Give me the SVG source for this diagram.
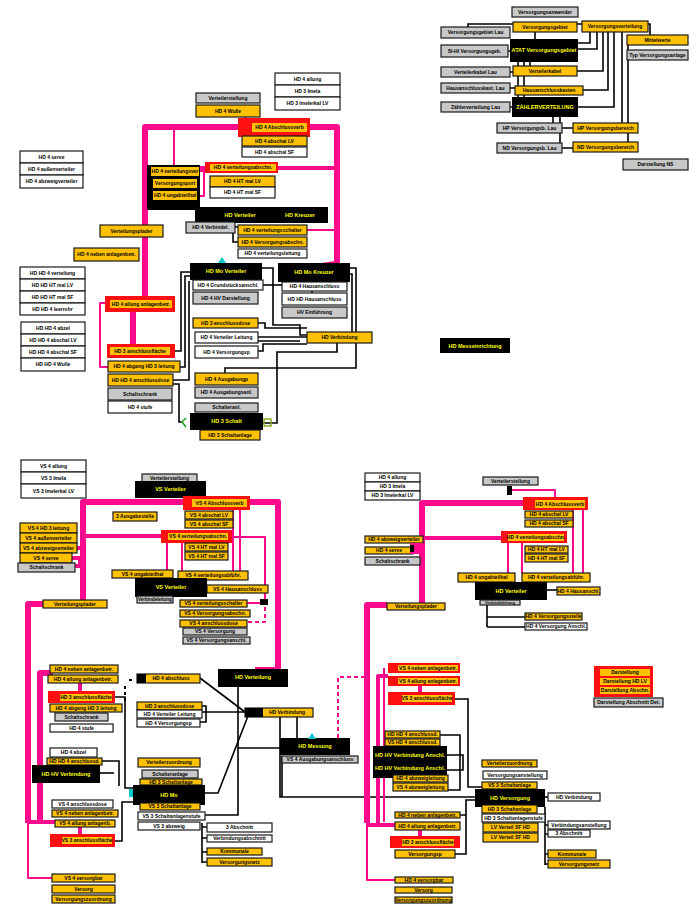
<svg xmlns="http://www.w3.org/2000/svg" width="696" height="905" viewBox="0 0 696 905">
<style>
.y{fill:#FFC000;stroke:#1a1a1a;stroke-width:1.2}
.w{fill:#fff;stroke:#1a1a1a;stroke-width:1.2}
.g{fill:#C8C8C8;stroke:#1a1a1a;stroke-width:1.2}
.r{fill:#FF1010}
.yi{fill:#FFC000}
.k{fill:#000}
text{font-family:'Liberation Sans',Arial,sans-serif;font-weight:bold;font-size:5px;text-anchor:middle;fill:#000}
.ty{fill:#FFFF00;font-size:5.5px}
.p{fill:none;stroke:#FF0A8C;stroke-linejoin:round}
.p6{stroke-width:6}.p4{stroke-width:4}.p2{stroke-width:2}
.pd{stroke-dasharray:4 3}
.l{fill:none;stroke:#000;stroke-width:1.6}
.ld{stroke-dasharray:3 3;stroke-width:2}
.cy{fill:#00C8C8}
</style>
<rect width="696" height="905" fill="#fff"/>
<g id="connectors">
<!-- top right black -->
<path class="l" d="M468,27V24H650V35"/>
<path class="l" d="M535,32V39"/>
<path class="l" d="M590,32V43H578"/>
<path class="l" d="M597,32V49H578"/>
<path class="l" d="M603,32V71H577"/>
<path class="l" d="M608,32V90H583"/>
<path class="l" d="M614,32V107H578"/>
<path class="l" d="M622,32V123"/>
<path class="l" d="M628,45V142"/>
<path class="l" d="M508,51H512M510,72H513M510,88H515M510,107H512M562,128H573M562,148H573"/>
<path class="l" d="M518,62V97M524,62V97M530,62V66"/>
<path class="l" d="M553,117V128M560,117V143"/>
<!-- top pink -->
<path class="p p6" d="M145,300V127H337V265"/>
<path class="p p4" d="M145,168H337"/>
<path class="p p2" d="M174,127V168"/>
<path class="p p2" d="M245,117L248,122"/>
<path class="p p2" d="M200,171H207M204,171V196H199"/>
<path class="p p2" d="M307,230H335"/>
<path class="p p2" d="M308,266L335,262"/>
<path class="p p6" d="M133,312V345"/>
<path class="p p2" d="M105,303H100V367H108"/>
<!-- top middle black -->
<path class="l" d="M175,351H181V272H190"/>
<path class="l" d="M180,367H185V276H190"/>
<path class="l" d="M173,380H189V281"/>
<path class="l" d="M173,384H179V422H183"/>
<path class="l" d="M262,268H273V325H300V335H307" stroke-width="2.5"/>
<path class="l" d="M258,323H265V328H307"/>
<path class="l" d="M258,337H307"/>
<path class="l" d="M258,341H300"/>
<path class="l" d="M258,351H263V344H307"/>
<path class="l" d="M350,268H356V368H225V373"/>
<path class="l" d="M350,274H352V336H372"/>
<path class="l" d="M337,343V352H277V423H263"/>
<path class="l" d="M263,285H282"/>
<path class="l" d="M312,290V293"/>
<path class="l" d="M235,227H238M233,233V242H238"/>
<!-- bottom left pink -->
<path class="p p6" d="M83,603V502H278V670H255"/>
<path class="p p4" d="M83,536H232"/>
<path class="p p2" d="M232,537H265V603H247"/>
<path class="p p2 pd" d="M265,607V622H247"/>
<path class="p p2" d="M167,543V571M182,543V571M233,510V571M240,510V571"/>
<path class="p p2" d="M188,488H193V497"/>
<path class="p p4" d="M77,548H83M72,558H80V566H75"/>
<path class="p p6" d="M45,604H28V823"/>
<path class="p p2" d="M28,823V878H53"/>
<path class="p p6" d="M53,673H40V823"/>
<path class="p p4" d="M28,822H58"/>
<path class="p p4" d="M80,683V692M80,827V835"/>
<!-- bottom middle black -->
<path class="l" d="M200,678L245,712"/>
<path class="l" d="M202,712H245"/>
<path class="l" d="M248,716L218,793H205"/>
<path class="l" d="M238,687V815H205"/>
<path class="l" d="M280,717V797H475"/>
<path class="l" d="M297,717V738"/>
<path class="l" d="M238,748H280"/>
<path class="l" d="M282,756V797"/>
<path class="l" d="M115,697H125V788H133"/>
<path class="l" d="M115,841H122V802H133"/>
<path class="l" d="M102,761H119V786"/>
<path class="l" d="M100,773H114"/>
<path class="l" d="M202,706H206V722H200"/>
<path class="l" d="M202,823V863M202,827H207M202,838H207M202,852H207M202,862H207" stroke-width="2"/>
<path class="l ld" d="M129,680H135M125,686V702"/>
<!-- bottom right pink -->
<path class="p p6" d="M422,604V503H523"/>
<path class="p p6" d="M367,823V605H387"/>
<path class="p p4" d="M412,538H501"/>
<path class="p p2" d="M508,543V573M522,543V573M573,510V573M583,510V573"/>
<path class="p p2" d="M512,490H555V498"/>
<path class="p p4" d="M378,823V676H388"/>
<path class="p p4" d="M367,825H395"/>
<path class="p p2" d="M384,668V822"/>
<path class="p p4" d="M420,686V692M420,829V836"/>
<path class="p p2" d="M367,823V880H395"/>
<path class="p p2 pd" d="M338,738V677H367"/>
<!-- bottom right black -->
<path class="l" d="M455,699H468V787H482"/>
<path class="l" d="M440,735H460V790H448"/>
<path class="l" d="M447,755H463V770H447"/>
<path class="l" d="M460,815H466V800H475M455,854H466V815"/>
<path class="l" d="M545,797H548"/>
<path class="l" d="M545,807V865M545,825H548M545,834H548M545,854H548M545,864H548" stroke-width="2.5"/>
<path class="l" d="M547,590H557"/>
<path class="l" d="M487,605V627M487,617H525M487,627H525"/>
</g>

<!-- TOP RIGHT -->
<g id="n1"><rect class="g" x="512" y="7" width="66" height="10"/><text x="545" y="13.8">Versorgungsanwender</text></g>
<g id="n2"><rect class="g" x="441" y="27" width="69" height="11"/><text x="475.5" y="34.3">Versorgungsgebiet Lau</text></g>
<g id="n3"><rect class="y" x="513" y="22" width="64" height="10"/><text x="545" y="28.8">Versorgungsgebiet</text></g>
<g id="n4"><rect class="y" x="582" y="21" width="66" height="11"/><text x="615" y="28.3">Versorgungsverteilung</text></g>
<g id="n5"><rect class="y" x="627" y="35" width="61" height="10"/><text x="657.5" y="41.8">Mittelwerte</text></g>
<g id="n6"><rect class="g" x="627" y="50" width="61" height="10"/><text x="657.5" y="56.8">Typ Versorgungsanlage</text></g>
<g id="n7"><rect class="k" x="510" y="39" width="68" height="23"/><text class="ty" x="544" y="52.3">ATAT Versorgungsgebiet</text></g>
<g id="n8"><rect class="g" x="441" y="45" width="67" height="12"/><text x="474.5" y="52.8">SI-HI Versorgungsgeb.</text></g>
<g id="n9"><rect class="g" x="441" y="67" width="69" height="10"/><text x="475.5" y="73.8">Verteilerkabel Lau</text></g>
<g id="n10"><rect class="y" x="513" y="66" width="64" height="10"/><text x="545" y="72.8">Verteilerkabel</text></g>
<g id="n11"><rect class="g" x="441" y="83" width="69" height="10"/><text x="475.5" y="89.8">Hausanschlusskast. Lau</text></g>
<g id="n12"><rect class="y" x="515" y="86" width="68" height="9"/><text x="549" y="92.3">Hausanschlusskasten</text></g>
<g id="n13"><rect class="g" x="441" y="102" width="69" height="10"/><text x="475.5" y="108.8">Zählerverteilung Lau</text></g>
<g id="n14"><rect class="k" x="512" y="97" width="66" height="20"/><text class="ty" x="545" y="108.8">ZÄHLERVERTEILUNG</text></g>
<g id="n15"><rect class="g" x="497" y="123" width="65" height="10"/><text x="529.5" y="129.8">HP Versorgungsb. Lau</text></g>
<g id="n16"><rect class="y" x="573" y="123" width="65" height="10"/><text x="605.5" y="129.8">HP Versorgungsbereich</text></g>
<g id="n17"><rect class="g" x="497" y="143" width="65" height="10"/><text x="529.5" y="149.8">ND Versorgungsb. Lau</text></g>
<g id="n18"><rect class="y" x="573" y="142" width="65" height="10"/><text x="605.5" y="148.8">ND Versorgungsbereich</text></g>
<g id="n19"><rect class="g" x="623" y="159" width="65" height="11"/><text x="655.5" y="166.3">Darstellung NS</text></g>

<!-- CENTER TOP -->
<g id="c1"><rect class="w" x="275" y="73" width="65" height="12"/><text x="307.5" y="80.8">HD 4 allung</text><rect class="w" x="275" y="85" width="65" height="12"/><text x="307.5" y="92.8">HD 3 Imela</text><rect class="w" x="275" y="97" width="65" height="13"/><text x="307.5" y="105.3">HD 3 Imelerkal LV</text></g>
<g id="c2"><rect class="g" x="196" y="93" width="64" height="10"/><text x="228" y="99.8">Verteilerstellung</text></g>
<g id="c3"><rect class="y" x="196" y="105" width="64" height="12"/><text x="228" y="112.8">HD 4 Wulle</text></g>
<g id="c4"><rect class="r" x="238" y="118" width="72" height="19"/><rect class="yi" x="252" y="123" width="55" height="9"/><text x="279.5" y="129.3">HD 4 Abschlussverb</text></g>
<g id="c5"><rect class="y" x="242" y="136" width="65" height="10"/><text x="274.5" y="142.8">HD 4 abschal LV</text></g>
<g id="c6"><rect class="w" x="242" y="147" width="65" height="10"/><text x="274.5" y="153.8">HD 4 abschal SF</text></g>
<g id="c7"><rect class="r" x="205" y="162" width="73" height="11"/><rect class="yi" x="210" y="164" width="66" height="7"/><text x="243" y="169.3">HD 4 verteilungsabschn.</text></g>
<g id="c8"><rect class="y" x="210" y="176" width="65" height="11"/><text x="242.5" y="183.3">HD 4 HT mal LV</text></g>
<g id="c9"><rect class="w" x="210" y="187" width="65" height="11"/><text x="242.5" y="194.3">HD 4 HT mal SF</text></g>
<g id="c10"><rect class="k" x="147" y="165" width="53" height="45"/><rect class="yi" x="151" y="167" width="48" height="9"/><text x="175" y="173.3">HD 4 verteilungsver</text><rect class="yi" x="153" y="179" width="44" height="9"/><text x="175" y="185.3">Versorgungsport</text><rect class="yi" x="153" y="191" width="44" height="9"/><text x="175" y="197.3">HD 4 ungabteilhal</text></g>
<g id="c11"><rect class="k" x="195" y="207" width="133" height="16"/><text class="ty" x="240" y="217">HD Verteiler</text><text class="ty" x="300" y="217">HD Kreuzer</text></g>
<g id="c12"><rect class="g" x="186" y="222" width="49" height="11"/><text x="210.5" y="229.3">HD 4 Verbindel.</text></g>
<g id="c13"><rect class="y" x="238" y="225" width="69" height="10"/><text x="272.5" y="231.8">HD 4 verteilungsschalter</text></g>
<g id="c14"><rect class="y" x="238" y="237" width="69" height="10"/><text x="272.5" y="243.8">HD 4 Versorgungsabschn.</text></g>
<g id="c15"><rect class="w" x="238" y="249" width="69" height="9"/><text x="272.5" y="255.3">HD 4 verteilungsleitung</text></g>

<!-- LEFT TOP -->
<g id="l1"><rect class="w" x="20" y="151" width="63" height="12"/><text x="51.5" y="158.8">HD 4 serve</text><rect class="w" x="20" y="163" width="63" height="12"/><text x="51.5" y="170.8">HD 4 außenverteiler</text><rect class="w" x="20" y="175" width="63" height="13"/><text x="51.5" y="183.3">HD 4 abzweigverteiler</text></g>
<g id="l2"><rect class="y" x="100" y="225" width="63" height="12"/><text x="131.5" y="232.8">Verteilungsplader</text></g>
<g id="l3"><rect class="y" x="74" y="248" width="65" height="13"/><text x="106.5" y="256.3">HD 4 neben anlagenbetr.</text></g>
<g id="l4"><rect class="w" x="20" y="267" width="65" height="12"/><text x="52.5" y="274.8">HD HD 4 verteilung</text><rect class="w" x="20" y="279" width="65" height="12"/><text x="52.5" y="286.8">HD HD HT mal LV</text><rect class="w" x="20" y="291" width="65" height="12"/><text x="52.5" y="298.8">HD HD HT mal SF</text><rect class="w" x="20" y="303" width="65" height="12"/><text x="52.5" y="310.8">HD HD 4 leerrohr</text></g>
<g id="l5"><rect class="w" x="21" y="322" width="64" height="12"/><text x="53" y="329.8">HD HD 4 abzel</text><rect class="w" x="21" y="334" width="64" height="12"/><text x="53" y="341.8">HD HD 4 abschal LV</text><rect class="w" x="21" y="346" width="64" height="12"/><text x="53" y="353.8">HD HD 4 abschal SF</text><rect class="w" x="21" y="358" width="64" height="13"/><text x="53" y="366.3">HD HD 4 Wulle</text></g>
<g id="l6"><rect class="r" x="105" y="296" width="70" height="16"/><rect class="yi" x="110" y="300" width="62" height="8"/><text x="141" y="305.8">HD 4 allung anlagenbetr.</text></g>
<g id="l7"><rect class="r" x="107" y="344" width="68" height="14"/><rect class="yi" x="110" y="347" width="60" height="8"/><text x="140" y="352.8">HD 3 anschlussfläche</text></g>
<g id="l8"><rect class="y" x="108" y="361" width="72" height="11"/><text x="144" y="368.3">HD 4 abgang HD 3 leitung</text></g>
<g id="l9"><rect class="y" x="108" y="374" width="65" height="12"/><text x="140.5" y="381.8">HD HD 4 anschlussdose</text></g>
<g id="l10"><rect class="g" x="108" y="388" width="64" height="12"/><text x="140" y="395.8">Schaltschrank</text></g>
<g id="l11"><rect class="w" x="108" y="401" width="64" height="12"/><text x="140" y="408.8">HD 4 stufe</text></g>

<!-- MIDDLE -->
<g id="m1"><rect class="k" x="190" y="263" width="72" height="17"/><text class="ty" x="226" y="273.3">HD Mo Verteiler</text><path class="cy" d="M218,263L222,257L226,263Z"/></g>
<g id="m2"><rect class="w" x="193" y="280" width="70" height="10"/><text x="228" y="286.8">HD 4 Grundstücksanschl.</text></g>
<g id="m3"><rect class="g" x="193" y="292" width="65" height="12"/><text x="225.5" y="299.8">HD 4 HV Darstellung</text></g>
<g id="m4"><rect class="k" x="278" y="263" width="72" height="19"/><text class="ty" x="314" y="274.3">HD Mo Kreuzer</text></g>
<g id="m5"><rect class="w" x="282" y="282" width="65" height="9"/><text x="314.5" y="288.3">HD 4 Hausanschluss</text></g>
<g id="m6"><rect class="w" x="282" y="293" width="65" height="12"/><text x="314.5" y="300.8">HD HD Hausanschluss</text></g>
<g id="m7"><rect class="g" x="282" y="307" width="65" height="11"/><text x="314.5" y="314.3">HV Einführung</text></g>
<g id="m8"><rect class="y" x="193" y="318" width="65" height="10"/><text x="225.5" y="324.8">HD 3 anschlussdose</text></g>
<g id="m9"><rect class="w" x="195" y="332" width="63" height="11"/><text x="226.5" y="339.3">HD 4 Verteiler Leitung</text></g>
<g id="m10"><rect class="w" x="195" y="346" width="63" height="12"/><text x="226.5" y="353.8">HD 4 Versorgungsp</text></g>
<g id="m11"><rect class="y" x="307" y="332" width="65" height="11"/><text x="339.5" y="339.3">HD Verbindung</text></g>
<g id="m12"><rect class="y" x="195" y="373" width="63" height="12"/><text x="226.5" y="380.8">HD 4 Ausgabungp</text></g>
<g id="m13"><rect class="g" x="195" y="387" width="63" height="11"/><text x="226.5" y="394.3">HD 4 Ausgabungsanl.</text></g>
<g id="m14"><rect class="g" x="195" y="403" width="63" height="9"/><text x="226.5" y="409.3">Schalteranl.</text></g>
<g id="m15"><rect class="k" x="190" y="413" width="73" height="17"/><text class="ty" x="226.5" y="423.3">HD 3 Schalt</text><path d="M186,418L182,422L186,427" fill="none" stroke="#22AA22" stroke-width="1.6"/><rect x="264" y="419" width="7" height="7" fill="none" stroke="#88AA22" stroke-width="1.5"/></g>
<g id="m16"><rect class="y" x="200" y="430" width="60" height="10"/><text x="230" y="436.8">HD 3 Schaltanlage</text></g>
<g id="m17"><rect class="k" x="440" y="338" width="70" height="15"/><text class="ty" x="475" y="347.8">HD Messeinrichtung</text></g>

<!-- BOTTOM LEFT -->
<g id="b1"><rect class="w" x="21" y="460" width="65" height="12"/><text x="53.5" y="467.8">VS 4 allung</text><rect class="w" x="21" y="472" width="65" height="12"/><text x="53.5" y="479.8">VS 3 Imela</text><rect class="w" x="21" y="484" width="65" height="14"/><text x="53.5" y="492.8">VS 3 Imelerkal LV</text></g>
<g id="b2"><rect class="g" x="142" y="474" width="55" height="8"/><text x="169.5" y="479.8">Verteilerstellung</text></g>
<g id="b3"><rect class="k" x="135" y="481" width="71" height="17"/><text class="ty" x="170.5" y="491.3">VS Verteiler</text></g>
<g id="b4"><rect class="r" x="183" y="496" width="67" height="14"/><rect class="yi" x="192" y="499" width="55" height="8"/><text x="219.5" y="504.8">VS 4 Abschlussverb</text></g>
<g id="b5"><rect class="y" x="113" y="512" width="44" height="9"/><text x="135" y="518.3">3 Ausgabestelle</text></g>
<g id="b6"><rect class="y" x="185" y="511" width="48" height="8"/><text x="209" y="516.8">VS 4 abschal LV</text><rect class="y" x="185" y="520" width="48" height="8"/><text x="209" y="525.8">VS 4 abschal SF</text></g>
<g id="b7"><rect class="r" x="161" y="530" width="71" height="13"/><rect class="yi" x="168" y="533" width="60" height="7"/><text x="198" y="538.3">VS 4 verteilungsabschn.</text></g>
<g id="b8"><rect class="y" x="185" y="543" width="43" height="8"/><text x="206.5" y="548.8">VS 4 HT mal LV</text><rect class="y" x="185" y="552" width="43" height="8"/><text x="206.5" y="557.8">VS 4 HT mal SF</text></g>
<g id="b9"><rect class="y" x="20" y="523" width="57" height="10"/><text x="48.5" y="529.8">VS 4 HD 3 leitung</text><rect class="y" x="20" y="533" width="57" height="10"/><text x="48.5" y="539.8">VS 4 außenverteiler</text><rect class="y" x="20" y="543" width="57" height="10"/><text x="48.5" y="549.8">VS 4 abzweigverteiler</text><rect class="y" x="20" y="553" width="52" height="10"/><text x="46" y="559.8">VS 4 serve</text><rect class="g" x="18" y="563" width="57" height="9"/><text x="46.5" y="569.3">Schaltschrank</text></g>
<g id="b10"><rect class="y" x="43" y="600" width="64" height="8"/><text x="75" y="605.8">Verteilungsplader</text></g>
<g id="b11"><rect class="y" x="112" y="570" width="61" height="8"/><text x="142.5" y="575.8">VS 4 ungabteilhal</text></g>
<g id="b12"><rect class="y" x="178" y="571" width="70" height="9"/><text x="213" y="577.3">VS 4 verteilungsabführ.</text></g>
<g id="b13"><rect class="k" x="135" y="578" width="72" height="19"/><text class="ty" x="171" y="589.3">VS Verteiler</text></g>
<g id="b14"><rect class="y" x="207" y="585" width="61" height="8"/><text x="237.5" y="590.8">VS 4 Hausanschluss</text></g>
<g id="b15"><rect class="g" x="137" y="596" width="36" height="7"/><text x="155" y="601.3" style="font-size:4.5px">Verbindeleitung</text></g>
<g id="b16"><rect class="y" x="180" y="600" width="67" height="7"/><text x="213.5" y="605.3">VS 4 verteilungsschalter</text><rect class="y" x="180" y="610" width="70" height="7"/><text x="215" y="615.3">VS 4 Versorgungsabschn.</text><rect class="y" x="180" y="620" width="67" height="7"/><text x="213.5" y="625.3">VS 4 anschlussdose</text></g>
<g id="b17"><rect class="g" x="183" y="628" width="64" height="7"/><text x="215" y="633.3">VS 4 Versorgung</text><rect class="g" x="183" y="637" width="67" height="7"/><text x="216.5" y="642.3">VS 4 Versorgungsanschl.</text></g>
<rect x="260" y="599" width="8" height="6" fill="#000"/>

<!-- BOTTOM LEFT LOWER -->
<g id="b20"><rect class="y" x="50" y="665" width="68" height="8"/><text x="84" y="670.8">HD 4 neben anlagenbetr.</text></g>
<g id="b21"><rect class="y" x="48" y="675" width="70" height="8"/><text x="83" y="680.8">HD 4 allung anlagenbetr.</text></g>
<g id="b22"><rect class="r" x="48" y="691" width="67" height="12"/><rect class="yi" x="60" y="694" width="52" height="7"/><text x="86" y="699.3">HD 3 anschlussfläche</text></g>
<g id="b23"><rect class="y" x="50" y="704" width="72" height="8"/><text x="86" y="709.8">HD 4 abgang HD 3 leitung</text></g>
<g id="b24"><rect class="g" x="55" y="713" width="53" height="8"/><text x="81.5" y="718.8">Schaltschrank</text></g>
<g id="b25"><rect class="w" x="50" y="724" width="63" height="8"/><text x="81.5" y="729.8">HD 4 stufe</text></g>
<g id="b26"><rect class="w" x="50" y="748" width="47" height="9"/><text x="73.5" y="754.3">HD 4 abzel</text></g>
<g id="b27"><rect class="y" x="47" y="758" width="55" height="7"/><text x="74.5" y="763.3">HD HD 4 anschlussd.</text></g>
<g id="b28"><rect class="k" x="32" y="765" width="68" height="18"/><text class="ty" x="66" y="776.3">HD HV Verbindung</text></g>
<g id="b29"><rect class="w" x="52" y="800" width="61" height="8"/><text x="82.5" y="805.8">VS 4 anschlussdose</text></g>
<g id="b30"><rect class="y" x="52" y="810" width="66" height="7"/><text x="85" y="815.3">VS 4 neben anlagenbetr.</text></g>
<g id="b31"><rect class="y" x="55" y="820" width="60" height="7"/><text x="85" y="825.3">VS 4 allung anlagenb.</text></g>
<g id="b32"><rect class="r" x="50" y="834" width="65" height="13"/><rect class="yi" x="62" y="837" width="50" height="7"/><text x="87" y="842.3">VS 3 anschlussfläche</text></g>
<g id="b33"><rect class="y" x="52" y="874" width="63" height="8"/><text x="83.5" y="879.8">VS 4 versorgbar</text></g>
<g id="b34"><rect class="y" x="52" y="885" width="63" height="8"/><text x="83.5" y="890.8">Versorg</text></g>
<g id="b35"><rect class="y" x="52" y="895" width="63" height="8"/><text x="83.5" y="900.8">Versorgungszuordnung</text></g>

<!-- BOTTOM MIDDLE -->
<g id="b40"><rect class="y" x="137" y="674" width="63" height="9"/><rect x="137" y="674" width="9" height="9" fill="#000"/><text x="171" y="680.3">HD 4 abschluss</text></g>
<g id="b41"><rect class="y" x="137" y="702" width="65" height="8"/><text x="169.5" y="707.8">HD 3 anschlussdose</text><rect class="w" x="137" y="710" width="65" height="8"/><text x="169.5" y="715.8">HD 4 Verteiler Leitung</text><rect class="w" x="137" y="719" width="63" height="8"/><text x="168.5" y="724.8">HD 4 Versorgungsp</text></g>
<g id="b42"><rect class="k" x="218" y="669" width="70" height="18"/><text class="ty" x="253" y="679.3">HD Verteilung</text></g>
<g id="b43"><rect class="y" x="245" y="708" width="68" height="9"/><rect x="245" y="708" width="18" height="9" fill="#000"/><text x="287" y="714.3">HD Verbindung</text></g>
<g id="b44"><rect class="k" x="280" y="738" width="70" height="17"/><text class="ty" x="315" y="748.3">HD Messung</text><path class="cy" d="M308,739L312,733L316,739Z"/></g>
<g id="b45"><rect class="g" x="282" y="756" width="76" height="7"/><text x="320" y="761.3">VS 4 Ausgabungsanschluss</text></g>
<g id="b46"><rect class="y" x="138" y="758" width="62" height="9"/><text x="169" y="764.3">Verteilerzuordnung</text></g>
<g id="b47"><rect class="g" x="142" y="770" width="56" height="8"/><text x="170" y="775.8">Schalteranlage</text></g>
<g id="b48"><rect class="y" x="140" y="779" width="62" height="6"/><text x="171" y="783.8">HD 3 Schaltanlage</text></g>
<g id="b49"><rect class="k" x="133" y="785" width="72" height="20"/><text class="ty" x="169" y="796.8">HD Mo</text><rect class="cy" x="129" y="789" width="4" height="8"/></g>
<g id="b50"><rect class="y" x="140" y="803" width="60" height="7"/><text x="170" y="808.3">VS 3 Schaltanlage</text></g>
<g id="b51"><rect class="w" x="138" y="812" width="67" height="8"/><text x="171.5" y="817.8">VS 3 Schaltanlagenstufe</text></g>
<g id="b52"><rect class="w" x="138" y="822" width="62" height="8"/><text x="169" y="827.8">VS 3 abzweig</text></g>
<g id="b53"><rect class="w" x="207" y="823" width="65" height="9"/><text x="239.5" y="829.3">3 Abschnitt</text><rect class="w" x="207" y="835" width="65" height="7"/><text x="239.5" y="840.3">Verbindungsabschnitt</text><rect class="y" x="207" y="848" width="55" height="7"/><text x="234.5" y="853.3">Kommunale</text><rect class="y" x="207" y="858" width="65" height="8"/><text x="239.5" y="863.8">Versorgungsnetz</text></g>

<!-- BOTTOM RIGHT -->
<g id="r1"><rect class="w" x="365" y="473" width="55" height="9"/><text x="392.5" y="479.3">HD 4 allung</text><rect class="w" x="365" y="482" width="55" height="9"/><text x="392.5" y="488.3">HD 3 Imela</text><rect class="w" x="365" y="491" width="55" height="9"/><text x="392.5" y="497.3">HD 3 Imelerkal LV</text></g>
<g id="r2"><rect class="g" x="483" y="477" width="55" height="8"/><text x="510.5" y="482.8">Verteilerstellung</text></g>
<g id="r3"><rect class="k" x="507" y="486" width="5" height="9"/></g>
<g id="r4"><rect class="r" x="523" y="497" width="65" height="13"/><rect class="yi" x="535" y="500" width="50" height="8"/><text x="560" y="505.8">HD 4 Abschlussverb</text></g>
<g id="r5"><rect class="y" x="525" y="511" width="48" height="7"/><text x="549" y="516.3">HD 4 abschal LV</text><rect class="y" x="525" y="520" width="48" height="7"/><text x="549" y="525.3">HD 4 abschal SF</text></g>
<g id="r6"><rect class="r" x="501" y="531" width="66" height="12"/><rect class="yi" x="508" y="534" width="56" height="7"/><text x="536" y="539.3">HD 4 verteilungsabschn.</text></g>
<g id="r7"><rect class="y" x="525" y="546" width="43" height="7"/><text x="546.5" y="551.3">HD 4 HT mal LV</text><rect class="y" x="525" y="554" width="43" height="8"/><text x="546.5" y="559.8">HD 4 HT mal SF</text></g>
<g id="r8"><rect class="y" x="365" y="536" width="58" height="7"/><text x="394" y="541.3">HD 4 abzweigverteiler</text><rect class="y" x="365" y="547" width="48" height="7"/><text x="389" y="552.3">HD 4 serve</text><rect class="g" x="365" y="557" width="55" height="8"/><text x="392.5" y="562.8">Schaltschrank</text></g>
<rect x="410" y="543" width="13" height="11" fill="#FF0A8C"/><rect x="410" y="545" width="4" height="7" fill="#000"/>
<g id="r9"><rect class="y" x="458" y="573" width="57" height="9"/><text x="486.5" y="579.3">HD 4 ungabteilhal</text><rect class="y" x="522" y="573" width="68" height="9"/><text x="556" y="579.3">HD 4 verteilungsabführ.</text></g>
<g id="r10"><rect class="k" x="475" y="582" width="72" height="18"/><text class="ty" x="511" y="592.8">HD Verteiler</text></g>
<g id="r11"><rect class="y" x="557" y="587" width="43" height="8"/><text x="578.5" y="592.8">HD 4 Hausanschl.</text></g>
<g id="r12"><rect class="g" x="480" y="600" width="40" height="5"/><text x="500" y="604.2" style="font-size:4px">Verbindeleitung</text></g>
<g id="r13"><rect class="y" x="387" y="603" width="58" height="7"/><text x="416" y="608.3">Verteilungsplader</text></g>
<g id="r14"><rect class="y" x="525" y="613" width="57" height="7"/><text x="553.5" y="618.3">HD 4 Versorgungsstelle</text><rect class="w" x="525" y="623" width="62" height="7"/><text x="556" y="628.3">HD 4 Versorgung Anschl.</text></g>
<g id="r15"><rect class="r" x="388" y="663" width="72" height="10"/><rect class="yi" x="398" y="665" width="60" height="6"/><text x="428" y="669.8">VS 4 neben anlagenbetr.</text><rect class="r" x="388" y="676" width="72" height="10"/><rect class="yi" x="398" y="678" width="60" height="6"/><text x="428" y="682.8">VS 4 allung anlagenbetr.</text><rect class="r" x="388" y="692" width="67" height="13"/><rect class="yi" x="402" y="695" width="50" height="7"/><text x="427" y="700.3">VS 3 anschlussfläche</text></g>
<g id="r16"><rect class="y" x="385" y="731" width="55" height="7"/><text x="412.5" y="736.3">HD HD 4 anschlussd.</text><rect class="y" x="385" y="739" width="55" height="7"/><text x="412.5" y="744.3">VS HD 4 anschlussd.</text></g>
<g id="r17"><rect class="k" x="373" y="746" width="74" height="32"/><text class="ty" x="410" y="757">HD HV Verbindung Anschl.</text><text class="ty" x="410" y="770">HD HV Verbindung Anschl.</text></g>
<g id="r18"><rect class="y" x="393" y="775" width="55" height="7"/><text x="420.5" y="780.3">HD 4 abzweigleitung</text><rect class="y" x="393" y="783" width="55" height="8"/><text x="420.5" y="788.8">VS 4 abzweigleitung</text></g>
<g id="r19"><rect class="y" x="482" y="760" width="55" height="7"/><text x="509.5" y="765.3">Verteilerzuordnung</text><rect class="w" x="483" y="771" width="64" height="8"/><text x="515" y="776.8">Versorgungsanstellung</text><rect class="y" x="482" y="782" width="55" height="7"/><text x="509.5" y="787.3">VS 3 Schaltanlage</text></g>
<g id="r20"><rect class="k" x="475" y="789" width="70" height="18"/><text class="ty" x="510" y="799.8">HD Versorgung</text></g>
<g id="r21"><rect class="y" x="482" y="805" width="55" height="8"/><text x="509.5" y="810.8">HD 3 Schaltanlage</text><rect class="w" x="482" y="814" width="63" height="8"/><text x="513.5" y="819.8">HD 3 Schaltanlagenstufe</text><rect class="y" x="483" y="823" width="55" height="9"/><text x="510.5" y="829.3">LV Verteil SF HD</text><rect class="y" x="483" y="833" width="55" height="9"/><text x="510.5" y="839.3">LV Verteil SF HD</text></g>
<g id="r22"><rect class="y" x="395" y="812" width="65" height="6"/><text x="427.5" y="816.8">HD 4 neben anlagenbetr.</text><rect class="y" x="395" y="822" width="65" height="8"/><text x="427.5" y="827.8">HD 4 allung anlagenbetr.</text><rect class="r" x="390" y="836" width="70" height="12"/><rect class="yi" x="402" y="839" width="52" height="7"/><text x="428" y="844.3">HD 3 anschlussfläche</text><rect class="y" x="395" y="850" width="60" height="8"/><text x="425" y="855.8">Versorgungsp</text></g>
<g id="r23"><rect class="y" x="395" y="877" width="58" height="6"/><text x="424" y="881.8">HD 4 versorgbar</text><rect class="y" x="395" y="887" width="57" height="6"/><text x="423.5" y="891.8">Versorg</text><rect class="y" x="395" y="897" width="57" height="6"/><text x="423.5" y="901.8">Versorgungszuordnung</text></g>
<g id="r24"><rect class="w" x="548" y="793" width="52" height="8"/><text x="574" y="798.8">HD Verbindung</text></g>
<g id="r25"><rect class="w" x="548" y="821" width="62" height="8"/><text x="579" y="826.8">Verbindungsanstellung</text><rect class="w" x="548" y="830" width="42" height="7"/><text x="569" y="835.3">3 Abschnitt</text><rect class="y" x="548" y="850" width="48" height="8"/><text x="572" y="855.8">Kommunale</text><rect class="y" x="548" y="860" width="62" height="8"/><text x="579" y="865.8">Versorgungsnetz</text></g>

<!-- LEGEND -->
<g id="legend"><rect class="r" x="594" y="666" width="59" height="31"/><rect class="yi" x="600" y="669" width="50" height="7"/><text x="625" y="674.3">Darstellung</text><rect class="yi" x="600" y="678" width="50" height="7"/><text x="625" y="683.3">Darstellung HD LV</text><rect class="yi" x="600" y="687" width="50" height="7"/><text x="625" y="692.3">Darstellung Abschn.</text><rect class="g" x="594" y="698" width="69" height="9"/><text x="628.5" y="704.3">Darstellung Abschnitt Det.</text></g>
</svg>
